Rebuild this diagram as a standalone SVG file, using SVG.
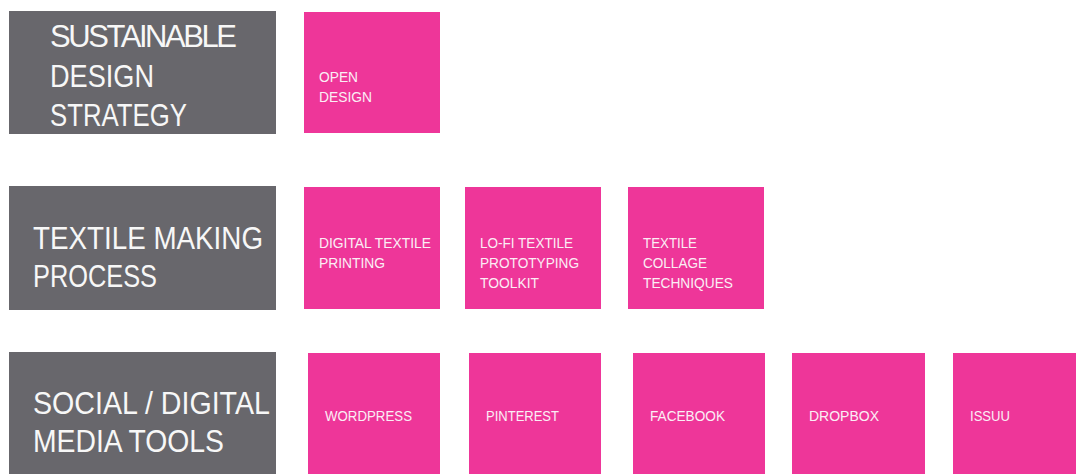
<svg xmlns="http://www.w3.org/2000/svg" width="1076" height="474" viewBox="0 0 1076 474">
  <style>
    .cat { fill: #68676c; }
    .item { fill: #ee3699; }
    .catText { font-family: "Liberation Sans", Arial, sans-serif; font-size: 31px; fill: #f7f7f7; }
    .itemText { font-family: "Liberation Sans", Arial, sans-serif; font-size: 15px; fill: #fbeef5; }
  </style>
  <rect width="1076" height="474" fill="#ffffff"/>

  <!-- Row 1: sustainable design strategy -->
  <g id="cat-sustainable">
    <rect class="cat" x="9" y="11" width="267" height="123"/>
    <text class="catText" lengthAdjust="spacingAndGlyphs">
      <tspan x="50" y="47" textLength="187">SUSTAINABLE</tspan>
    </text>
    <text class="catText" x="50" y="87" textLength="104" lengthAdjust="spacingAndGlyphs">DESIGN</text>
    <text class="catText" x="50" y="126" textLength="137" lengthAdjust="spacingAndGlyphs">STRATEGY</text>
  </g>
  <g id="item-open-design">
    <rect class="item" x="304" y="12" width="136" height="121"/>
    <text class="itemText" x="319" y="82" textLength="39" lengthAdjust="spacingAndGlyphs">OPEN</text>
    <text class="itemText" x="319" y="102" textLength="53" lengthAdjust="spacingAndGlyphs">DESIGN</text>
  </g>

  <!-- Row 2: textile making process -->
  <g id="cat-textile">
    <rect class="cat" x="9" y="186" width="267" height="124"/>
    <text class="catText" x="33" y="249" textLength="230" lengthAdjust="spacingAndGlyphs">TEXTILE MAKING</text>
    <text class="catText" x="33" y="287" textLength="124" lengthAdjust="spacingAndGlyphs">PROCESS</text>
  </g>
  <g id="item-digital-printing">
    <rect class="item" x="304" y="187" width="136" height="122"/>
    <text class="itemText" x="319" y="248" textLength="112" lengthAdjust="spacingAndGlyphs">DIGITAL TEXTILE</text>
    <text class="itemText" x="319" y="268" textLength="66" lengthAdjust="spacingAndGlyphs">PRINTING</text>
  </g>
  <g id="item-lofi-toolkit">
    <rect class="item" x="465" y="187" width="136" height="122"/>
    <text class="itemText" x="480" y="248" textLength="93" lengthAdjust="spacingAndGlyphs">LO-FI TEXTILE</text>
    <text class="itemText" x="480" y="268" textLength="99" lengthAdjust="spacingAndGlyphs">PROTOTYPING</text>
    <text class="itemText" x="480" y="288" textLength="59" lengthAdjust="spacingAndGlyphs">TOOLKIT</text>
  </g>
  <g id="item-collage">
    <rect class="item" x="628" y="187" width="136" height="122"/>
    <text class="itemText" x="643" y="248" textLength="54" lengthAdjust="spacingAndGlyphs">TEXTILE</text>
    <text class="itemText" x="643" y="268" textLength="64" lengthAdjust="spacingAndGlyphs">COLLAGE</text>
    <text class="itemText" x="643" y="288" textLength="90" lengthAdjust="spacingAndGlyphs">TECHNIQUES</text>
  </g>

  <!-- Row 3: social / digital media tools -->
  <g id="cat-social">
    <rect class="cat" x="9" y="352" width="267" height="122"/>
    <text class="catText" x="33" y="414" textLength="237" lengthAdjust="spacingAndGlyphs">SOCIAL / DIGITAL</text>
    <text class="catText" x="33" y="452" textLength="191" lengthAdjust="spacingAndGlyphs">MEDIA TOOLS</text>
  </g>
  <g id="item-wordpress">
    <rect class="item" x="308" y="353" width="132" height="121"/>
    <text class="itemText" x="325" y="421" textLength="87" lengthAdjust="spacingAndGlyphs">WORDPRESS</text>
  </g>
  <g id="item-pinterest">
    <rect class="item" x="469" y="353" width="132" height="121"/>
    <text class="itemText" x="486" y="421" textLength="73" lengthAdjust="spacingAndGlyphs">PINTEREST</text>
  </g>
  <g id="item-facebook">
    <rect class="item" x="633" y="353" width="132" height="121"/>
    <text class="itemText" x="650" y="421" textLength="75" lengthAdjust="spacingAndGlyphs">FACEBOOK</text>
  </g>
  <g id="item-dropbox">
    <rect class="item" x="792" y="353" width="133" height="121"/>
    <text class="itemText" x="809" y="421" textLength="70" lengthAdjust="spacingAndGlyphs">DROPBOX</text>
  </g>
  <g id="item-issuu">
    <rect class="item" x="953" y="353" width="123" height="121"/>
    <text class="itemText" x="970" y="421" textLength="40" lengthAdjust="spacingAndGlyphs">ISSUU</text>
  </g>

  <!-- no connectors in this chart -->
  <g id="connectors"/>
</svg>
